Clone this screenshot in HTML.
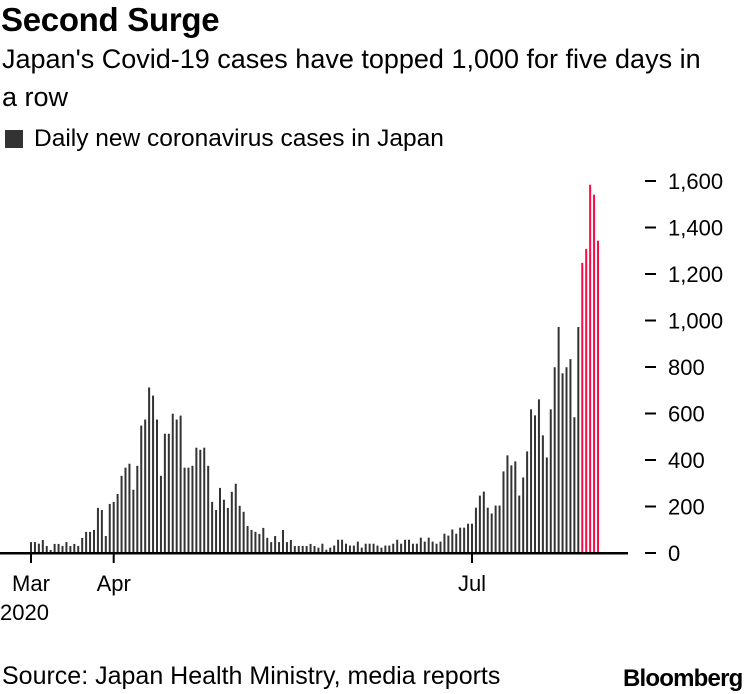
<!DOCTYPE html>
<html><head><meta charset="utf-8"><style>
body{margin:0;width:750px;height:694px;overflow:hidden;background:#fff;font-family:"Liberation Sans",sans-serif;color:#000;position:relative}
.t{position:absolute;white-space:nowrap}
</style></head><body>
<div class="t" style="left:1px;top:1px;font-size:33px;font-weight:bold;letter-spacing:-0.3px">Second Surge</div>
<div class="t" style="left:2px;top:40px;font-size:27px;line-height:38px;white-space:normal;width:700px">Japan's Covid-19 cases have topped 1,000 for five days in a row</div>
<div style="position:absolute;left:5px;top:130px;width:18px;height:18px;background:#333"></div>
<div class="t" style="left:34px;top:125px;font-size:24.5px">Daily new coronavirus cases in Japan</div>
<svg id="chart" width="750" height="694" style="position:absolute;left:0;top:0"></svg>
<div class="t" style="left:2px;top:662px;font-size:25px">Source: Japan Health Ministry, media reports</div>
<div class="t" style="left:623px;top:665px;font-size:24px;font-weight:bold;letter-spacing:-0.8px">Bloomberg</div>
<script>
const values=[47,47,40,56,30,13,39,39,30,47,30,39,30,65,91,91,99,194,185,73,211,220,254,332,367,384,272,375,548,574,712,677,574,332,513,513,
599,574,591,367,367,375,453,444,453,375,220,185,280,229,194,263,298,203,177,116,99,91,82,108,65,47,73,47,99,47,56,30,30,30,30,39,30,
23,40,14,23,32,57,57,40,32,32,49,23,40,40,40,32,23,32,32,40,57,40,57,57,40,40,66,49,66,49,40,49,83,75,101,83,
109,109,126,126,195,247,264,195,170,204,204,351,420,377,394,247,325,437,618,592,661,506,411,618,799,972,773,799,834,584,972,1248,1308,1584,1541,1343];
const highlightCount=5;
const yTicks=[0,200,400,600,800,1000,1200,1400,1600];
const xTickIdx=[0,21,112];
const xTickLabels=["Mar","Apr","Jul"];
const svg=document.getElementById('chart');const NS='http://www.w3.org/2000/svg';
const xStart=31,xEnd=598,yBase=553,yTop=181,vMax=1600;
const step=(xEnd-xStart)/(values.length-1);
const X=i=>xStart+i*step;
const Y=v=>yBase-(v/vMax)*(yBase-yTop);
function mk(t,a){const e=document.createElementNS(NS,t);for(const k in a)e.setAttribute(k,a[k]);svg.appendChild(e);return e;}
const highlightFrom=values.length-highlightCount;
values.forEach((v,i)=>{
const r=mk('rect',{x:X(i)-1,y:Y(v),width:2,height:yBase-Y(v),fill:i>=highlightFrom?'#ff0a45':'#333'});


});
const ax=mk('rect',{x:0,y:yBase-1,width:628,height:2.5,fill:'#000'});


yTicks.forEach(v=>{
const l=mk('rect',{x:645,y:Y(v)-1,width:11,height:2,fill:'#000'});


const t=mk('text',{x:668,y:Y(v)+8,'font-size':22,'font-family':'Liberation Sans, sans-serif'});
t.textContent=v.toLocaleString('en-US');


});
xTickIdx.forEach((ix,j)=>{
const l=mk('rect',{x:X(ix)-1,y:yBase,width:2,height:10,fill:'#000'});


const t=mk('text',{x:X(ix),y:591,'font-size':22,'text-anchor':'middle','font-family':'Liberation Sans, sans-serif'});
t.textContent=xTickLabels[j];


});
const yr=mk('text',{x:0,y:620,'font-size':22,'font-family':'Liberation Sans, sans-serif'});
yr.textContent='2020';


</script>
</body></html>
